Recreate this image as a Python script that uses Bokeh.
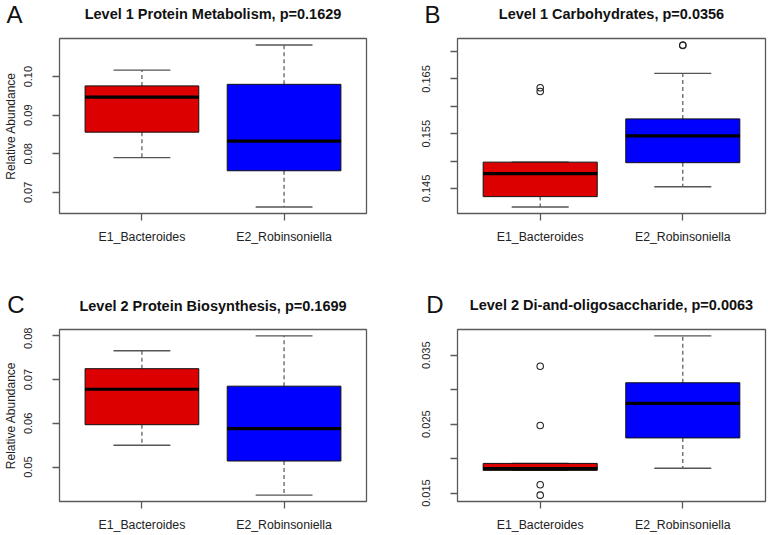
from bokeh.plotting import figure
from bokeh.layouts import row, column
from bokeh.models import Range1d, FixedTicker, Label
from bokeh.embed import file_html
from bokeh.resources import INLINE

# ---------------- data ----------------
groups = ["E1_Bacteroides", "E2_Robinsoniella"]
positions = [1, 2]
fills = ["#DD0000", "#0000FF"]

titles = ["Level 1 Protein Metabolism, p=0.1629",
          "Level 1 Carbohydrates, p=0.0356",
          "Level 2 Protein Biosynthesis, p=0.1699",
          "Level 2 Di-and-oligosaccharide, p=0.0063"]
letters = ["A", "B", "C", "D"]

# box statistics per panel: [E1, E2]
A_low = [0.0790, 0.0662]
A_q1 = [0.0856, 0.0756]
A_med = [0.0947, 0.0833]
A_q3 = [0.0976, 0.0980]
A_high = [0.1017, 0.1082]
A_out = [[], []]
A_ticks = [0.07, 0.08, 0.09, 0.10]
A_labels = ["0.07", "0.08", "0.09", "0.10"]

B_low = [0.1416, 0.1453]
B_q1 = [0.1435, 0.1497]
B_med = [0.1477, 0.1546]
B_q3 = [0.1498, 0.1577]
B_high = [0.1498, 0.1660]
B_out = [[0.1634, 0.1627], [0.1712, 0.1711]]
B_ticks = [0.145, 0.150, 0.155, 0.160, 0.165, 0.170]
B_labels = ["0.145", "", "0.155", "", "0.165", ""]

C_low = [0.0550, 0.0436]
C_q1 = [0.0597, 0.0514]
C_med = [0.0678, 0.0588]
C_q3 = [0.0725, 0.0685]
C_high = [0.0766, 0.0800]
C_out = [[], []]
C_ticks = [0.05, 0.06, 0.07, 0.08]
C_labels = ["0.05", "0.06", "0.07", "0.08"]

D_low = [0.0183, 0.0186]
D_q1 = [0.0183, 0.0230]
D_med = [0.01853, 0.0280]
D_q3 = [0.0193, 0.0310]
D_high = [0.0193, 0.0378]
D_out = [[0.0334, 0.0248, 0.0162, 0.0147], []]
D_ticks = [0.015, 0.020, 0.025, 0.030, 0.035]
D_labels = ["0.015", "", "0.025", "", "0.035"]

FONT = "Liberation Sans"
BORDER = "#5a5a5a"
WHISK = "#555555"
TEXT = "#111111"


def header(idx, width, height, b_top, b_bottom, b_left, b_right, title_y, letter_standoff):
    """Strip above a panel: title centred over the frame, panel letter at the left."""
    fh = height - b_top - b_bottom
    h = figure(width=width, height=height, title=None, output_backend="svg",
               toolbar_location=None, tools="",
               x_range=Range1d(0, 1), y_range=Range1d(fh, 0),
               x_axis_location=None, y_axis_location="left",
               min_border_top=b_top, min_border_bottom=b_bottom,
               min_border_left=b_left, min_border_right=b_right)
    h.grid.visible = False
    h.outline_line_color = None
    ya = h.yaxis[0]
    ya.ticker = FixedTicker(ticks=[])
    ya.axis_line_color = None
    ya.major_tick_line_color = None
    ya.minor_tick_line_color = None
    ya.major_label_text_font_size = "0px"
    ya.major_tick_out = 0
    ya.major_tick_in = 0
    ya.major_label_standoff = 0
    ya.axis_label = letters[idx]
    ya.axis_label_orientation = "horizontal"
    ya.axis_label_text_font = FONT
    ya.axis_label_text_font_style = "normal"
    ya.axis_label_text_font_size = "24px"
    ya.axis_label_text_color = TEXT
    ya.axis_label_standoff = letter_standoff
    h.add_layout(Label(x=0.5, y=title_y, text=titles[idx], text_align="center",
                       text_baseline="alphabetic", text_font=FONT,
                       text_font_style="bold", text_font_size="14.5px",
                       text_color=TEXT))
    return h


def panel(low, q1, med, q3, high, outs, ticks, tlabels, width, height,
          b_left, b_right, b_bottom, show_ylabel):
    allv = low + high + [v for o in outs for v in o]
    lo, hi = min(allv), max(allv)
    pad = 0.04 * (hi - lo)
    x0, x1 = 0.5 - 0.04 * 2, 2.5 + 0.04 * 2

    p = figure(width=width, height=height, title=None, output_backend="svg",
               toolbar_location=None, tools="",
               x_range=Range1d(x0, x1), y_range=Range1d(lo - pad, hi + pad),
               min_border_left=b_left, min_border_right=b_right,
               min_border_top=2, min_border_bottom=b_bottom)
    p.grid.visible = False
    p.background_fill_color = "white"
    p.border_fill_color = "white"
    p.outline_line_color = BORDER
    p.outline_line_width = 1.3

    xa = p.xaxis[0]
    xa.ticker = FixedTicker(ticks=positions)
    xa.major_label_overrides = dict(zip(positions, groups))
    ya = p.yaxis[0]
    ya.ticker = FixedTicker(ticks=ticks)
    ya.major_label_overrides = dict(zip(ticks, tlabels))
    ya.major_label_orientation = "vertical"
    for ax in (xa, ya):
        ax.axis_line_color = None
        ax.major_tick_line_color = BORDER
        ax.major_tick_line_width = 1.3
        ax.major_tick_out = 7
        ax.major_tick_in = 0
        ax.minor_tick_line_color = None
        ax.major_label_text_font = FONT
        ax.major_label_text_color = "#222222"
    xa.major_label_text_font_size = "12.3px"
    xa.major_label_standoff = 9
    ya.major_label_text_font_size = "11px"
    ya.major_label_standoff = 20
    if show_ylabel:
        ya.axis_label = "Relative Abundance"
        ya.axis_label_text_font = FONT
        ya.axis_label_text_font_style = "normal"
        ya.axis_label_text_font_size = "12px"
        ya.axis_label_text_color = "#222222"
        ya.axis_label_standoff = 4

    # whiskers (dashed)
    p.segment(x0=positions, y0=q3, x1=positions, y1=high, line_color=WHISK,
              line_width=1.2, line_dash="4 3")
    p.segment(x0=positions, y0=q1, x1=positions, y1=low, line_color=WHISK,
              line_width=1.2, line_dash="4 3")
    # staples
    capl = [x - 0.2 for x in positions]
    capr = [x + 0.2 for x in positions]
    p.segment(x0=capl, y0=high, x1=capr, y1=high, line_color=WHISK, line_width=1.3)
    p.segment(x0=capl, y0=low, x1=capr, y1=low, line_color=WHISK, line_width=1.3)
    # boxes
    p.vbar(x=positions, width=0.8, bottom=q1, top=q3, fill_color=fills,
           line_color="#111111", line_width=1)
    # medians
    ml = [x - 0.4 for x in positions]
    mr = [x + 0.4 for x in positions]
    p.segment(x0=ml, y0=med, x1=mr, y1=med, line_color="black", line_width=3.2)
    # outliers
    ox, oy = [], []
    for pos, o in zip(positions, outs):
        ox += [pos] * len(o)
        oy += o
    if ox:
        p.scatter(x=ox, y=oy, marker="circle", size=6.5, fill_color=None,
                  line_color="#222222", line_width=1.1)
    return p


# top row: header 36 + plot 229 = 265 ; bottom row: header 62 + plot 207 = 269
hA = header(0, 384, 36, 0, 8, 58, 18, 13.3, 37)
hB = header(1, 383, 36, 0, 8, 73, 2, 13.3, 17)
hC = header(2, 384, 62, 16, 0, 58, 18, 24, 35)
hD = header(3, 383, 62, 16, 0, 73, 2, 23.3, 14)

pA = panel(A_low, A_q1, A_med, A_q3, A_high, A_out, A_ticks, A_labels,
           384, 229, 58, 18, 52, True)
pB = panel(B_low, B_q1, B_med, B_q3, B_high, B_out, B_ticks, B_labels,
           383, 229, 73, 2, 52, False)
pC = panel(C_low, C_q1, C_med, C_q3, C_high, C_out, C_ticks, C_labels,
           384, 207, 58, 18, 30, True)
pD = panel(D_low, D_q1, D_med, D_q3, D_high, D_out, D_ticks, D_labels,
           383, 207, 73, 2, 30, False)

layout = column(row(column(hA, pA), column(hB, pB)),
                row(column(hC, pC), column(hD, pD)))

open("out.html", "w").write(file_html(layout, INLINE))
